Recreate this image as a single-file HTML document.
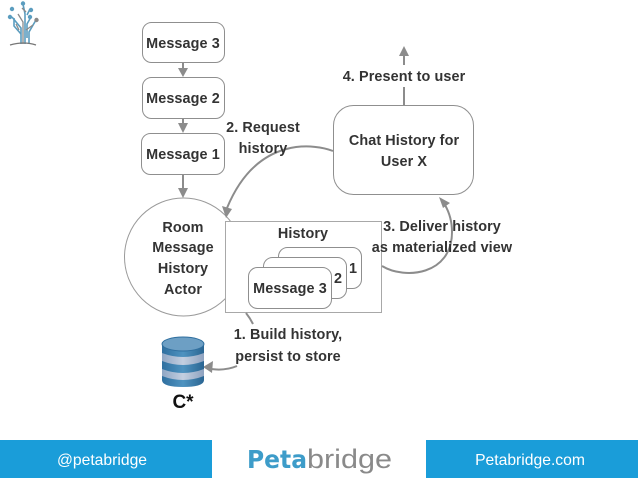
<!DOCTYPE html>
<html><head><meta charset="utf-8"><style>
html,body{margin:0;padding:0;background:#fff;width:638px;height:479px;overflow:hidden}
svg{display:block}
text{font-family:"Liberation Sans",sans-serif;font-weight:700;font-size:14.4px;fill:#333;text-anchor:middle;letter-spacing:.1px}
.l{font-family:"Liberation Sans",sans-serif;font-weight:400;font-size:15.7px;fill:#fff;letter-spacing:0}
</style></head><body>
<svg width="638" height="479" viewBox="0 0 638 479" xmlns="http://www.w3.org/2000/svg">
<defs>
<linearGradient id="cyl" x1="0" x2="1" y1="0" y2="0"><stop offset="0" stop-color="#2f6f9f"/><stop offset=".5" stop-color="#4f93c0"/><stop offset="1" stop-color="#2a6592"/></linearGradient>
<linearGradient id="band" x1="0" x2="1" y1="0" y2="0"><stop offset="0" stop-color="#8fa6c4"/><stop offset=".5" stop-color="#c3cfe0"/><stop offset="1" stop-color="#8fa3c0"/></linearGradient>
</defs>

<!-- logo tree -->
<g fill="none" stroke="#5b9dbf" stroke-width="1.6">
<path d="M21 44V28L12 17M25 44V14L23 4M27 38V24L31 17M29 44V32L36 20"/>
<path d="M21 34L14 26V18M27 15L30 9"/>
</g>
<g fill="none" stroke="#8a8a8a" stroke-width="1.3"><path d="M23 44V22L18 14M26 30L33 25M19 30L16 24M26 12L22 8"/></g>
<path d="M10 45Q24 41 36 45" fill="none" stroke="#777" stroke-width="1.2"/>
<g fill="#5b9dbf"><circle cx="12" cy="9" r="2.2"/><circle cx="23" cy="3.5" r="2.2"/><circle cx="31" cy="10" r="2.2"/><circle cx="30" cy="17" r="2.2"/><circle cx="10" cy="17" r="2.2"/></g>
<circle cx="36.500" cy="20" r="2.200" fill="#888"/>

<!-- message boxes -->
<g fill="#fff" stroke="#8f8f8f" stroke-width="1">
<rect x="142.500" y="22.500" width="82" height="40" rx="9"/>
<rect x="142.500" y="77.500" width="82" height="41" rx="9"/>
<rect x="141.500" y="133.500" width="83" height="41" rx="9"/>
</g>
<text x="183" y="48">Message 3</text>
<text x="183" y="103">Message 2</text>
<text x="183" y="159">Message 1</text>

<!-- vertical arrows -->
<g stroke="#8c8c8c" stroke-width="2" fill="#8c8c8c">
<path d="M183 63V70" fill="none"/><path d="M178 68H188L183 77Z" stroke="none"/>
<path d="M183 119V125" fill="none"/><path d="M178 123H188L183 133Z" stroke="none"/>
<path d="M183 175V191" fill="none"/><path d="M178 188H188L183 198Z" stroke="none"/>
<path d="M404 105V87" fill="none"/>
<path d="M404 65V54" fill="none"/><path d="M399 56H409L404 46Z" stroke="none"/>
</g>

<!-- Room circle -->
<circle cx="183.500" cy="257" r="59" fill="#fff" stroke="#9a9a9a" stroke-width="1"/>
<text x="183" y="232">Room</text>
<text x="183" y="252">Message</text>
<text x="183" y="273">History</text>
<text x="183" y="294">Actor</text>

<!-- History box -->
<rect x="225.500" y="221.500" width="156" height="91" fill="#fff" stroke="#a8a8a8" stroke-width="1"/>
<text x="303" y="238">History</text>
<g fill="#fff" stroke="#8f8f8f" stroke-width="1">
<rect x="278.500" y="247.500" width="83" height="41" rx="9"/>
<rect x="263.500" y="257.500" width="83" height="41" rx="9"/>
<rect x="248.500" y="267.500" width="83" height="41" rx="9"/>
</g>
<text x="353" y="273">1</text>
<text x="338" y="283">2</text>
<text x="290" y="293">Message 3</text>

<!-- Chat box -->
<rect x="333.500" y="105.500" width="140" height="89" rx="20" fill="#fff" stroke="#8f8f8f" stroke-width="1"/>
<text x="404" y="145">Chat History for</text>
<text x="404" y="166">User X</text>

<!-- curved connectors -->
<g fill="none" stroke="#8c8c8c" stroke-width="2">
<path d="M333 151C318 145 258 133 227 208"/>
<path d="M382 266C405 280 452 275 452 232C452 220 449 212 445 205"/>
<path d="M246 313Q250 318 253 324"/>
<path d="M237 366Q225 371 211 369"/>
</g>
<path d="M226 218L222 206L232 209Z" fill="#8c8c8c"/>
<path d="M439 197L450 203L443 208Z" fill="#8c8c8c"/>
<path d="M203 367L213 361L212 373Z" fill="#8c8c8c"/>

<!-- labels -->
<text x="404" y="81">4. Present to user</text>
<text x="263" y="132">2. Request</text>
<text x="263" y="153">history</text>
<text x="442" y="231">3. Deliver history</text>
<text x="442" y="252">as materialized view</text>
<text x="288" y="339">1. Build history,</text>
<text x="288" y="361">persist to store</text>

<!-- cylinder -->
<path d="M162 344V380Q162 387 183 387Q204 387 204 380V344Z" fill="url(#cyl)"/>
<path d="M162 353V361Q183 369 204 361V353Q183 361 162 353Z" fill="url(#band)"/>
<path d="M162 369V376Q183 384 204 376V369Q183 377 162 369Z" fill="url(#band)"/>
<ellipse cx="183" cy="344" rx="21" ry="7" fill="#6d9fc4" stroke="#2f6f9f" stroke-width="1"/>
<text x="183" y="408" style="font-size:19px;fill:#111;letter-spacing:0">C*</text>

<!-- footer -->
<rect x="0" y="440" width="212" height="38" fill="#1a9dd9"/>
<rect x="426" y="440" width="212" height="38" fill="#1a9dd9"/>
<text class="l" x="102" y="465">@petabridge</text>
<text class="l" x="530" y="465">Petabridge.com</text>
<text x="247" y="468" textLength="60" lengthAdjust="spacingAndGlyphs" style="font-family:'DejaVu Sans',sans-serif;font-size:25px;text-anchor:start;fill:#3d9cc9;font-weight:700;letter-spacing:0">Peta</text>
<text x="307" y="468" textLength="85" lengthAdjust="spacingAndGlyphs" style="font-family:'Liberation Sans',sans-serif;font-size:27px;text-anchor:start;fill:#8a8a8a;font-weight:400;letter-spacing:0">bridge</text>
</svg>
</body></html>
